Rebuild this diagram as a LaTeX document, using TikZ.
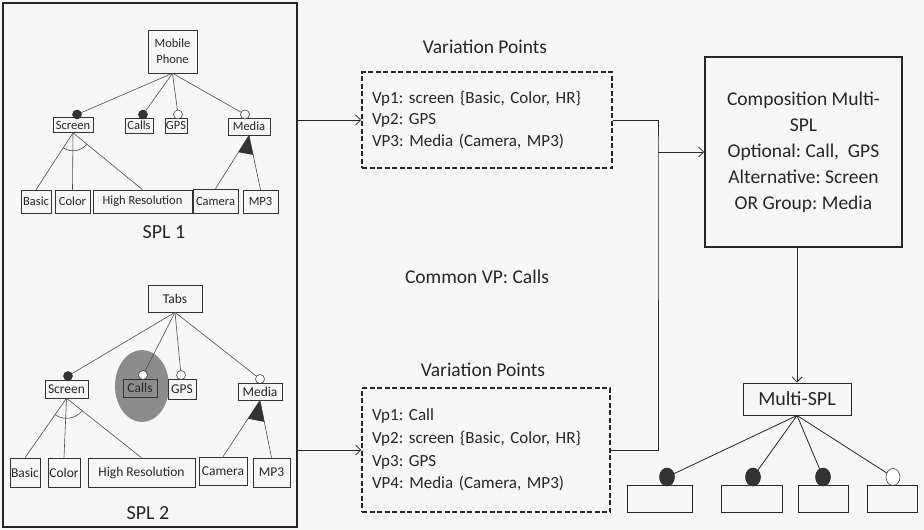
\documentclass[tikz,border=0pt]{standalone}
\usepackage{fontspec}
\setmainfont{Carlito}
\frenchspacing
\usetikzlibrary{arrows.meta,shapes.geometric,calc}
\begin{document}
\begin{tikzpicture}[x=1pt,y=-1pt,
  feat/.style={draw=black!80, line width=0.6pt, inner sep=0pt, text=black!85, font=\fontsize{12.5}{16}\selectfont},
  featb/.style={feat, font=\fontsize{13.5}{16}\selectfont},
  tl/.style={draw=black!70, line width=0.6pt},
  fc/.style={circle, draw=black!85, fill=black!80, minimum size=9pt, inner sep=0pt, line width=0.5pt},
  oc/.style={circle, draw=black!85, fill=white, minimum size=9pt, inner sep=0pt, line width=0.5pt},
  big/.style={text=black!85, font=\fontsize{19.5}{26}\selectfont},
  vpbox/.style={draw=black!85, line width=1.6pt, dash pattern=on 5pt off 2.5pt, align=left, inner xsep=10pt, text=black!85},
  conn/.style={draw=black!85, line width=0.8pt},
  arr/.style={conn, -{Straight Barb[length=5pt,width=10pt]}},
  msc/.style={ellipse, draw=black!85, fill=black!80, minimum width=15pt, minimum height=18pt, inner sep=0pt, line width=0.5pt},
  mso/.style={msc, fill=white, minimum width=14pt, minimum height=17pt},
  msb/.style={draw=black!85, line width=1pt, minimum height=27pt, inner sep=0pt}
]
\useasboundingbox (0,0) rectangle (924,530);
\fill[gray!6] (0,0) rectangle (924,530);

% ---------- left frame ----------
\node[draw=black!85, line width=1.6pt, minimum width=294pt, minimum height=524pt, inner sep=0pt] (frame) at (150,265) {};

% ---------- SPL 1 ----------
\node[feat, minimum width=49pt, minimum height=43pt, align=center] (mp1) at (172.5,51.5) {Mobile\\Phone};
\node[feat, minimum width=40pt, minimum height=15pt] (scr1) at (73,125) {Screen};
\node[feat, minimum width=28pt, minimum height=15pt] (cal1) at (139,125.5) {Calls};
\node[feat, minimum width=22pt, minimum height=15pt] (gps1) at (176,125.5) {GPS};
\node[feat, minimum width=42pt, minimum height=17pt] (med1) at (249,126.5) {Media};
\node[fc] (s1c) at (77,114.5) {};
\node[fc] (c1c) at (143,114.5) {};
\node[oc] (g1c) at (178,114.5) {};
\node[oc] (m1c) at (245,114.5) {};
\foreach \c in {s1c,c1c,g1c,m1c} \draw[tl] (mp1.south) -- (\c);

\node[feat, minimum width=30pt, minimum height=23pt] (bas1) at (36,201.5) {Basic};
\node[feat, minimum width=35pt, minimum height=23pt] (col1) at (72.5,201.5) {Color};
\node[feat, minimum width=99pt, minimum height=23pt] (hr1) at (142.5,201.5) {High Resolution};
\node[feat, minimum width=45pt, minimum height=24pt] (cam1) at (215.5,201) {Camera};
\node[feat, minimum width=35pt, minimum height=23pt] (mp31) at (260.5,201.5) {MP3};
\draw[tl] (scr1.south) -- (bas1.north);
\draw[tl] (scr1.south) -- (col1.north);
\draw[tl] (scr1.south) -- (hr1.north);
\draw[tl] (scr1.south) ++(237.2:18pt) arc[start angle=237.2, end angle=320.4, radius=18pt];
\draw[tl] (med1.south) -- (cam1.north);
\draw[tl] (med1.south) -- (mp31.north);
\fill[black!80] (med1.south) -- ($(med1.south)!20pt!(cam1.north)$) -- ($(med1.south)!20pt!(mp31.north)$) -- cycle;
\node[text=black!85, font=\fontsize{20}{24}\selectfont] (spl1) at (164,232) {SPL 1};

% ---------- SPL 2 ----------
\node[ellipse, fill=black!45, minimum width=54pt, minimum height=72pt, inner sep=0pt] (hl) at (142,386) {};
\node[featb, minimum width=54pt, minimum height=27pt] (tabs) at (175,298.5) {Tabs};
\node[featb, minimum width=43pt, minimum height=18pt] (scr2) at (66.5,389) {Screen};
\node[featb, minimum width=34pt, minimum height=18pt] (cal2) at (140,388) {Calls};
\node[featb, minimum width=28pt, minimum height=20pt] (gps2) at (182,389) {GPS};
\node[featb, minimum width=44pt, minimum height=17pt] (med2) at (260,391.5) {Media};
\node[fc] (s2c) at (68,376) {};
\node[oc] (c2c) at (143,375) {};
\node[oc] (g2c) at (181,375) {};
\node[oc] (m2c) at (260,379) {};
\foreach \c in {s2c,c2c,g2c,m2c} \draw[tl] (tabs.south) -- (\c);

\node[featb, minimum width=30pt, minimum height=29pt] (bas2) at (25,472.5) {Basic};
\node[featb, minimum width=32pt, minimum height=29pt] (col2) at (64,472.5) {Color};
\node[featb, minimum width=107pt, minimum height=29pt] (hr2) at (141.5,472.5) {High Resolution};
\node[featb, minimum width=48pt, minimum height=28pt] (cam2) at (223,471) {Camera};
\node[featb, minimum width=37pt, minimum height=29pt] (mp32) at (271.5,472.5) {MP3};
\draw[tl] (scr2.south) -- (bas2.north);
\draw[tl] (scr2.south) -- (col2.north);
\draw[tl] (scr2.south) -- (hr2.north);
\draw[tl] (scr2.south) ++(235.3:20pt) arc[start angle=235.3, end angle=321.3, radius=20pt];
\draw[tl] (med2.south) -- (cam2.north);
\draw[tl] (med2.south) -- (mp32.north);
\fill[black!80] (med2.south) -- ($(med2.south)!22pt!(cam2.north)$) -- ($(med2.south)!22pt!(mp32.north)$) -- cycle;
\node[text=black!85, font=\fontsize{20}{24}\selectfont] (spl2) at (148,513) {SPL 2};

% ---------- middle ----------
\node[big] (vpl1) at (485,47) {Variation Points};
\node[vpbox, minimum height=96pt, text width=230pt, font=\fontsize{17}{21.5}\selectfont] (vp1) at (487,120)
  {Vp1: screen \{Basic, Color, HR\}\\Vp2: GPS\\VP3: Media (Camera, MP3)};
\node[big] (common) at (477,277) {Common VP: Calls};
\node[big] (vpl2) at (483,370) {Variation Points};
\node[vpbox, minimum height=124pt, text width=228pt, font=\fontsize{17}{22.7}\selectfont] (vp2) at (486,450)
  {Vp1: Call\\Vp2: screen \{Basic, Color, HR\}\\Vp3: GPS\\VP4: Media (Camera, MP3)};
\draw[arr] (frame.east |- vp1.west) -- (vp1.west);
\draw[arr] (frame.east |- vp2.west) -- (vp2.west);

% ---------- right ----------
\node[draw=black!85, line width=1.6pt, minimum width=197pt, minimum height=190pt, align=center, big] (comp) at (803.5,152)
  {Composition Multi-\\SPL\\Optional: Call,~ GPS\\Alternative: Screen\\OR Group: Media};
\coordinate (j) at (658,152);
\draw[conn] (vp1.east) -| (j) |- (vp2.east);
\draw[arr] (j) -- (comp.west);

\node[draw=black!85, line width=1pt, minimum width=108pt, minimum height=32pt, text=black!85, font=\fontsize{20}{24}\selectfont] (ms) at (797,399) {Multi-SPL};
\draw[arr] (ms.north |- comp.south) -- (ms.north);

\node[msb, minimum width=65pt] (mb1) at (659.5,498.5) {};
\node[msb, minimum width=61pt] (mb2) at (751.5,498.5) {};
\node[msb, minimum width=50pt] (mb3) at (823,498.5) {};
\node[msb, minimum width=50pt] (mb4) at (892,498.5) {};
\node[msc] (mc1) at (667,477) {};
\node[msc] (mc2) at (753,477) {};
\node[msc] (mc3) at (823,477) {};
\node[mso] (mc4) at (893,477) {};
\foreach \c in {mc1,mc2,mc3,mc4} \draw[conn] (ms.south) -- (\c);
\end{tikzpicture}
\end{document}
